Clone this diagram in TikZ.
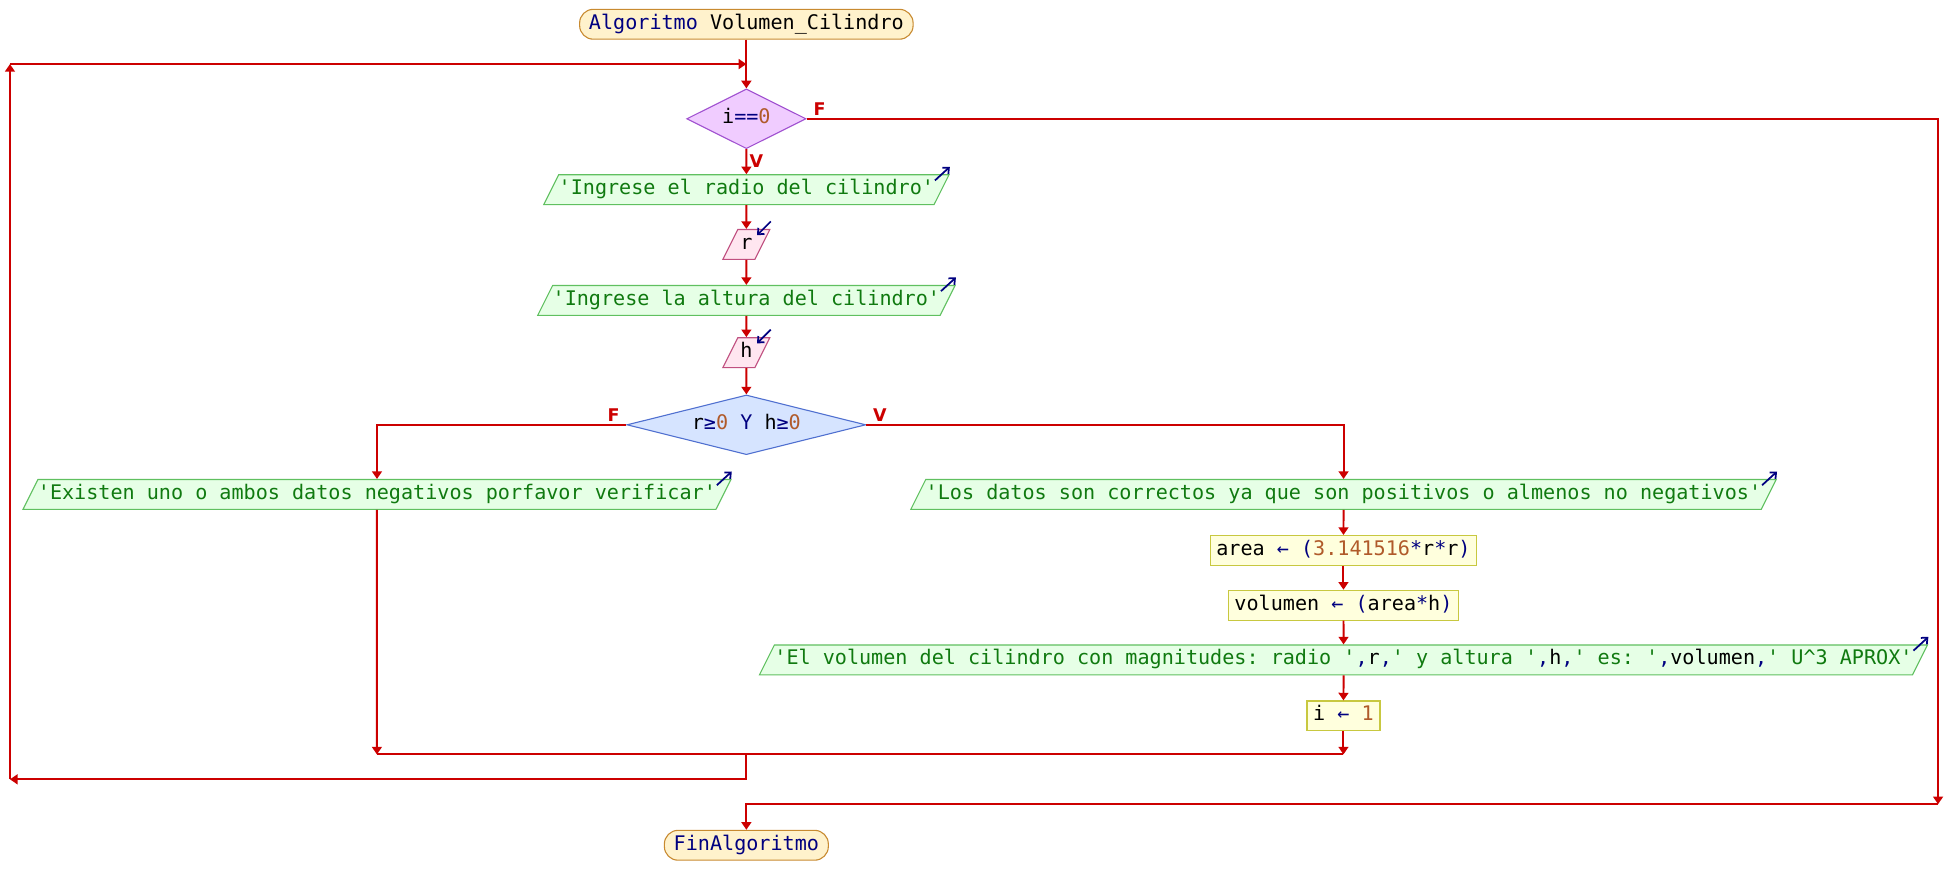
\documentclass[tikz,border=0pt]{standalone}
\usepackage{fontspec}
\setmonofont{DejaVu Sans Mono}
\setsansfont{DejaVu Sans}
\usetikzlibrary{shapes.geometric,arrows.meta}

\definecolor{rojo}{HTML}{CC0000}
\definecolor{azul}{HTML}{000080}
\definecolor{verde}{HTML}{107A10}
\definecolor{cafe}{HTML}{B05A2A}
\definecolor{iniborde}{HTML}{C88A30}
\definecolor{inifondo}{HTML}{FFF2CC}
\definecolor{moraborde}{HTML}{A050D0}
\definecolor{morafondo}{HTML}{F0CCFF}
\definecolor{celborde}{HTML}{5070D0}
\definecolor{celfondo}{HTML}{D6E4FF}
\definecolor{salborde}{HTML}{60C060}
\definecolor{salfondo}{HTML}{E6FFE6}
\definecolor{entborde}{HTML}{C05080}
\definecolor{entfondo}{HTML}{FFE6F0}
\definecolor{asigborde}{HTML}{C8C840}
\definecolor{asigfondo}{HTML}{FFFFDD}

\newcommand{\opr}[1]{\textcolor{azul}{#1}}
\newcommand{\nro}[1]{\textcolor{cafe}{#1}}
\newcommand{\cad}[1]{\textcolor{verde}{#1}}

\begin{document}
\begin{tikzpicture}[
	>={Triangle[width=4.5pt,length=3.5pt]},
	flecha/.style={draw=rojo,line width=0.9pt},
	ico/.style={draw=azul,line width=0.8pt,-{Straight Barb[length=2.2pt,width=4pt]}},
	lbl/.style={text=rojo,font=\sffamily\bfseries\fontsize{8}{9}\selectfont,inner sep=1pt},
	caja/.style={font=\ttfamily\fontsize{9.2}{11}\selectfont,text height=7pt,text depth=2.5pt,inner ysep=2.08pt,line width=0.5pt},
	inicio/.style={caja,draw=iniborde,fill=inifondo,rounded corners=0.22cm,inner xsep=0.15cm},
	decision/.style={caja,diamond,inner sep=0pt,minimum height=0.96cm},
	salida/.style={caja,trapezium,trapezium left angle=63.4,trapezium right angle=116.6,draw=salborde,fill=salfondo,text=verde,inner xsep=0pt},
	entrada/.style={caja,trapezium,trapezium left angle=63.4,trapezium right angle=116.6,draw=entborde,fill=entfondo,inner xsep=0.04cm},
	asigna/.style={caja,draw=asigborde,fill=asigfondo,inner xsep=0.1cm}
]
	\useasboundingbox (0,0) rectangle (31.32,14.39) ;

	\node[inicio] (ini) at (12,14) {\opr{Algoritmo} Volumen\_Cilindro} ;
	\node[decision,aspect=2,minimum width=1.92cm,draw=moraborde,fill=morafondo] (d1) at (12,12.48) {i\opr{==}\nro{0}} ;
	\node[salida] (o1) at (12,11.34) {'Ingrese el radio del cilindro'} ;
	\node[entrada] (e1) at (12,10.46) {r} ;
	\node[salida] (o2) at (12,9.56) {'Ingrese la altura del cilindro'} ;
	\node[entrada] (e2) at (12,8.72) {h} ;
	\node[decision,aspect=4,minimum width=3.84cm,draw=celborde,fill=celfondo] (d2) at (12,7.56) {r\opr{≥}\nro{0} \opr{Y} h\opr{≥}\nro{0}} ;

	\node[salida] (o3) at (6.06,6.44) {'Existen uno o ambos datos negativos porfavor verificar'} ;
	\node[salida] (o4) at (21.6,6.44) {'Los datos son correctos ya que son positivos o almenos no negativos'} ;
	\node[asigna] (a1) at (21.6,5.54) {area \opr{←} \opr{(}\nro{3.141516}\opr{*}r\opr{*}r\opr{)}} ;
	\node[asigna] (a2) at (21.6,4.66) {volumen \opr{←} \opr{(}area\opr{*}h\opr{)}} ;
	\node[salida] (o5) at (21.6,3.78) {'El volumen del cilindro con magnitudes: radio '\opr{,}\textcolor{black}{r}\opr{,}' y altura '\opr{,}\textcolor{black}{h}\opr{,}' es: '\opr{,}\textcolor{black}{volumen}\opr{,}' U\textasciicircum3 APROX'} ;
	\node[asigna] (a3) at (21.6,2.88) {i \opr{←} \nro{1}} ;

	\node[inicio] (fin) at (12,0.8) {\opr{FinAlgoritmo}} ;

	\coordinate (lazo) at (12,13.36) ;
	\coordinate (esq2) at (0.16,13.36) ;
	\coordinate (esq1) at (0.16,1.86) ;
	\coordinate (medio) at (12,2.26) ;
	\coordinate (unionA) at (6.06,2.26) ;
	\coordinate (unionB) at (21.6,2.26) ;
	\coordinate (derB) at (31.16,1.46) ;

	\draw[flecha,->] (ini) -- (d1) ;
	\draw[flecha,->] (d1) -- node[lbl,at start,anchor=north west,yshift=-0.04cm]{V} (o1) ;
	\draw[flecha,->] (o1) -- (e1) ;
	\draw[flecha,->] (e1) -- (o2) ;
	\draw[flecha,->] (o2) -- (e2) ;
	\draw[flecha,->] (e2) -- (d2) ;

	\draw[flecha,->] (d2.west) node[lbl,anchor=south east,xshift=-0.06cm]{F} -| (o3) ;
	\draw[flecha,->] (d2.east) node[lbl,anchor=south west,xshift=0.06cm]{V} -| (o4) ;
	\draw[flecha,->] (o4) -- (a1) ;
	\draw[flecha,->] (a1) -- (a2) ;
	\draw[flecha,->] (a2) -- (o5) ;
	\draw[flecha,->] (o5) -- (a3) ;

	\draw[flecha,->] (o3) -- (unionA) ;
	\draw[flecha,->] (a3) -- (unionB) ;
	\draw[flecha] (unionA) -- (unionB) ;

	\draw[flecha,->] (medio) |- (esq1) ;
	\draw[flecha,->] (esq1) -- (esq2) ;
	\draw[flecha,->] (esq2) -- (lazo) ;

	\draw[flecha,->] (d1.east) node[lbl,anchor=south west,xshift=0.06cm]{F} -| (derB) ;
	\draw[flecha,->] (derB) -| (fin) ;

	\draw[ico] ([shift={(-0.24,-0.1)}]o1.top right corner) -- ([shift={(0,0.12)}]o1.top right corner) ;
	\draw[ico] ([shift={(-0.24,-0.1)}]o2.top right corner) -- ([shift={(0,0.12)}]o2.top right corner) ;
	\draw[ico] ([shift={(-0.24,-0.1)}]o3.top right corner) -- ([shift={(0,0.12)}]o3.top right corner) ;
	\draw[ico] ([shift={(-0.24,-0.1)}]o4.top right corner) -- ([shift={(0,0.12)}]o4.top right corner) ;
	\draw[ico] ([shift={(-0.24,-0.1)}]o5.top right corner) -- ([shift={(0,0.12)}]o5.top right corner) ;
	\draw[ico] ([shift={(0,0.12)}]e1.top right corner) -- ([shift={(-0.22,-0.1)}]e1.top right corner) ;
	\draw[ico] ([shift={(0,0.12)}]e2.top right corner) -- ([shift={(-0.22,-0.1)}]e2.top right corner) ;
\end{tikzpicture}
\end{document}
